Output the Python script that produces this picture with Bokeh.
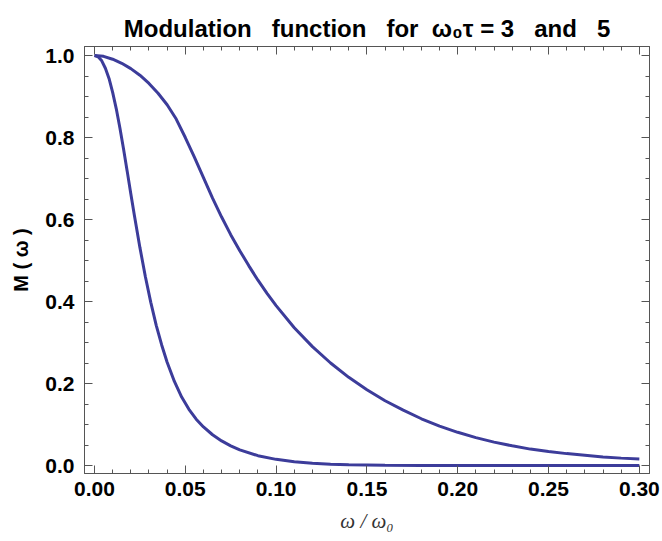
import numpy as np
from bokeh.plotting import figure
from bokeh.models import Range1d, LinearAxis, FixedTicker, PrintfTickFormatter
from bokeh.embed import file_html
from bokeh.resources import INLINE

# ---- data ----
# narrow curve (omega0*tau = 5)
w_narrow = [0.0, 0.002, 0.004, 0.006, 0.008, 0.010, 0.012, 0.014, 0.016, 0.018,
            0.020, 0.022, 0.025, 0.028, 0.031, 0.034, 0.037, 0.040, 0.044,
            0.048, 0.052, 0.056, 0.060, 0.065, 0.070, 0.075, 0.080, 0.090,
            0.100, 0.110, 0.120, 0.130, 0.140, 0.160, 0.180, 0.200, 0.250, 0.300]
m_narrow = [1.000, 0.997, 0.987, 0.969, 0.944, 0.910, 0.870, 0.823, 0.772, 0.718,
            0.663, 0.609, 0.532, 0.461, 0.398, 0.342, 0.294, 0.252, 0.205,
            0.167, 0.137, 0.113, 0.094, 0.075, 0.060, 0.048, 0.038, 0.024,
            0.015, 0.009, 0.0055, 0.0033, 0.002, 0.0007, 0.0003, 0.0001, 0.0, 0.0]

# broad curve (omega0*tau = 3)
w_broad = [0.0, 0.005, 0.010, 0.015, 0.020, 0.025, 0.030, 0.035, 0.040, 0.045,
           0.050, 0.055, 0.060, 0.065, 0.070, 0.075, 0.080, 0.085, 0.090,
           0.095, 0.100, 0.110, 0.120, 0.130, 0.140, 0.150, 0.160, 0.170,
           0.180, 0.190, 0.200, 0.210, 0.220, 0.230, 0.240, 0.250, 0.260,
           0.270, 0.280, 0.290, 0.300]
m_broad = [1.000, 0.998, 0.991, 0.981, 0.968, 0.952, 0.932, 0.908, 0.880, 0.845,
           0.800, 0.752, 0.702, 0.652, 0.606, 0.563, 0.524, 0.487, 0.452,
           0.420, 0.390, 0.336, 0.290, 0.250, 0.215, 0.185, 0.158, 0.135,
           0.114, 0.096, 0.081, 0.068, 0.057, 0.048, 0.040, 0.034, 0.029,
           0.025, 0.021, 0.018, 0.016]

x_ticks = [0.0, 0.05, 0.10, 0.15, 0.20, 0.25, 0.30]
y_ticks = [0.0, 0.2, 0.4, 0.6, 0.8, 1.0]

NB = "\u00a0"
TITLE = ("Modulation" + NB * 3 + "function" + NB * 3 + "for" + NB * 2 +
         "ω₀τ = 3" + NB * 3 + "and" + NB * 3 + "5")

LINE_COLOR = "#3c3c9a"
FRAME_COLOR = "#555555"

p = figure(width=662, height=541, output_backend="svg", toolbar_location=None,
           x_range=Range1d(-0.0055, 0.3056), y_range=Range1d(-0.0195, 1.022),
           min_border_left=84, min_border_right=13, min_border_top=46,
           min_border_bottom=68, outline_line_color=FRAME_COLOR,
           background_fill_color="white", border_fill_color="white")
p.grid.visible = False

x_minor = list(np.round(np.arange(0, 0.3001, 0.01), 3))
y_minor = list(np.round(np.arange(0, 1.0001, 0.05), 3))
xt = FixedTicker(ticks=x_ticks, minor_ticks=x_minor)
yt = FixedTicker(ticks=y_ticks, minor_ticks=y_minor)


def style(ax):
    ax.major_tick_in = 8
    ax.major_tick_out = 0
    ax.minor_tick_in = 4
    ax.minor_tick_out = 0
    ax.axis_line_color = FRAME_COLOR
    ax.major_tick_line_color = FRAME_COLOR
    ax.minor_tick_line_color = FRAME_COLOR
    ax.major_label_text_font = "Liberation Sans"
    ax.major_label_text_font_style = "bold"
    ax.major_label_text_font_size = "21px"
    ax.major_label_text_color = "black"


xa = p.xaxis[0]
ya = p.yaxis[0]
xa.ticker = xt
ya.ticker = yt
xa.formatter = PrintfTickFormatter(format="%.2f")
ya.formatter = PrintfTickFormatter(format="%.1f")
style(xa)
style(ya)
xa.major_label_standoff = 8
ya.major_label_standoff = 10

xa.axis_label = "ω / ω₀"
xa.axis_label_text_font = "Liberation Serif"
xa.axis_label_text_font_style = "italic"
xa.axis_label_text_font_size = "21px"
xa.axis_label_text_color = "#333333"
xa.axis_label_standoff = 10

ya.axis_label = "M ( ω )"
ya.axis_label_text_font = "Liberation Sans"
ya.axis_label_text_font_style = "bold"
ya.axis_label_text_font_size = "20px"
ya.axis_label_text_color = "black"
ya.axis_label_standoff = 10

# mirrored tick marks on the top and right edges of the frame (no labels)
top_ax = LinearAxis(ticker=xt)
style(top_ax)
top_ax.major_label_text_color = None
top_ax.major_label_text_font_size = "6px"
top_ax.major_label_standoff = 2
p.add_layout(top_ax, "above")

right_ax = LinearAxis(ticker=yt)
style(right_ax)
right_ax.major_label_text_color = None
right_ax.major_label_text_font_size = "0px"
right_ax.major_label_standoff = 0
p.add_layout(right_ax, "right")

p.line(w_broad, m_broad, line_color=LINE_COLOR, line_width=3)
p.line(w_narrow, m_narrow, line_color=LINE_COLOR, line_width=3)

p.title.text = TITLE
p.title.text_font = "Liberation Sans"
p.title.text_font_style = "bold"
p.title.text_font_size = "24px"
p.title.text_color = "black"
p.title.align = "center"
p.title.offset = 6

open("out.html", "w").write(file_html(p, INLINE))
